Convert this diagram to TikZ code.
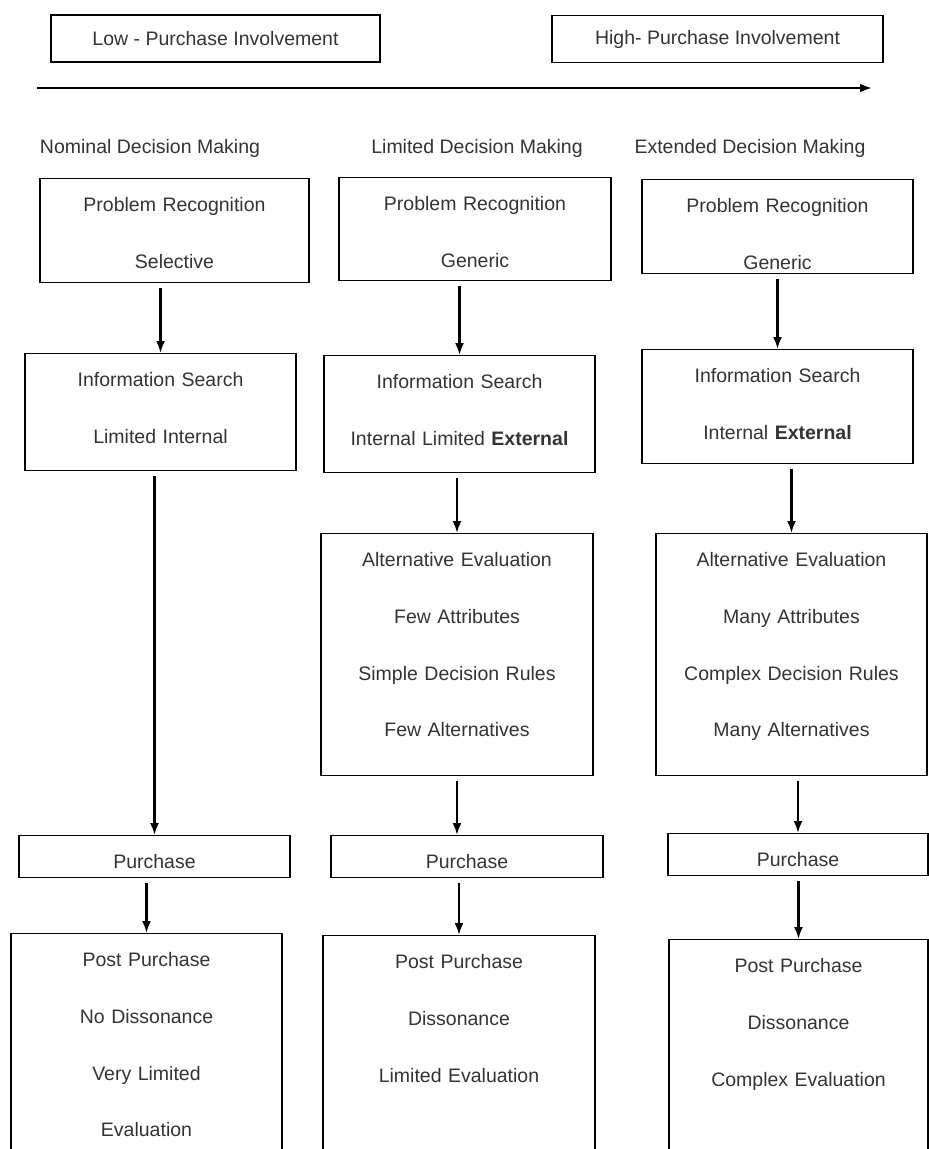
\documentclass[tikz,border=0pt]{standalone}
\usepackage{fontspec}
\setmainfont{Liberation Sans}
\usetikzlibrary{arrows.meta}

\begin{document}
\begin{tikzpicture}[x=1pt,y=-1pt,
        stage/.style={draw,line width=1.4pt,anchor=north,inner sep=0pt,align=center,text height=33pt,
            font=\fontsize{19.5pt}{56.7pt}\selectfont,text=black!80},
        level/.style={draw,line width=1.4pt,inner sep=0pt,minimum height=47pt,
            font=\fontsize{19.5pt}{24pt}\selectfont,text=black!80},
        heading/.style={inner sep=0pt,font=\fontsize{19.5pt}{24pt}\selectfont,text=black!80},
        flow/.style={-{Latex[length=12pt,width=9pt]},line width=2.2pt,shorten <=5pt}]
        \clip (0,0) rectangle (929,1149);
        % Involvement scale
        \node[level,minimum width=329pt] (low) at (215.5,38.5) {Low - Purchase Involvement};
        \node[level,minimum width=331pt] (high) at (717.5,39) {High- Purchase Involvement};
        \coordinate (axL) at (37,88);
        \coordinate (axR) at (872,88);
        \draw[-{Latex[length=12pt,width=9pt]},line width=2.6pt] (axL) -- (axR);
        % Column headings
        \node[heading] (hNom) at (150,148) {Nominal Decision Making};
        \node[heading] (hLim) at (477,148) {Limited Decision Making};
        \node[heading] (hExt) at (750,148) {Extended Decision Making};
        % Nominal decision making
        \node[stage,text width=269pt,text depth=71pt] (prob1) at (174.5,178) {Problem Recognition\\Selective};
        \node[stage,text width=271pt,text depth=84pt] (info1) at (160.5,353) {Information Search\\Limited Internal};
        \node[stage,text width=271pt,text depth=9pt] (purch1) at (154.5,835) {Purchase};
        \node[stage,text width=271pt,text depth=260pt] (post1) at (146.5,933) {Post Purchase\\No Dissonance\\Very Limited\\Evaluation};
        % Limited decision making
        \node[stage,text width=272pt,text depth=70pt] (prob2) at (475,177) {Problem Recognition\\Generic};
        \node[stage,text width=271pt,text depth=84pt] (info2) at (459.5,355) {Information Search\\Internal Limited \textbf{External}};
        \node[stage,text width=272pt,text depth=209pt] (alt2) at (457,533) {Alternative Evaluation\\Few Attributes\\Simple Decision Rules\\Few Alternatives};
        \node[stage,text width=272pt,text depth=9pt] (purch2) at (467,835) {Purchase};
        \node[stage,text width=272pt,text depth=260pt] (post2) at (459,935) {Post Purchase\\Dissonance\\Limited Evaluation};
        % Extended decision making
        \node[stage,text width=271pt,text depth=61pt] (prob3) at (777.5,179) {Problem Recognition\\Generic};
        \node[stage,text width=271pt,text depth=81pt] (info3) at (777.5,349) {Information Search\\Internal \textbf{External}};
        \node[stage,text width=271pt,text depth=209pt] (alt3) at (791.5,533) {Alternative Evaluation\\Many Attributes\\Complex Decision Rules\\Many Alternatives};
        \node[stage,text width=260pt,text depth=9pt] (purch3) at (798,833) {Purchase};
        \node[stage,text width=259pt,text depth=260pt] (post3) at (798.5,939) {Post Purchase\\Dissonance\\Complex Evaluation};
        % Arrows between stages
        \foreach \a/\b in {prob1/info1,info1/purch1,purch1/post1,prob2/info2,info2/alt2,purch2/post2,
            prob3/info3,info3/alt3,alt3/purch3,purch3/post3}
            {\draw[flow] (\a.south -| \b.north) -- (\b.north);}
        \draw[flow] (alt2.south) -- (alt2.south |- purch2.north);
\end{tikzpicture}
\end{document}
